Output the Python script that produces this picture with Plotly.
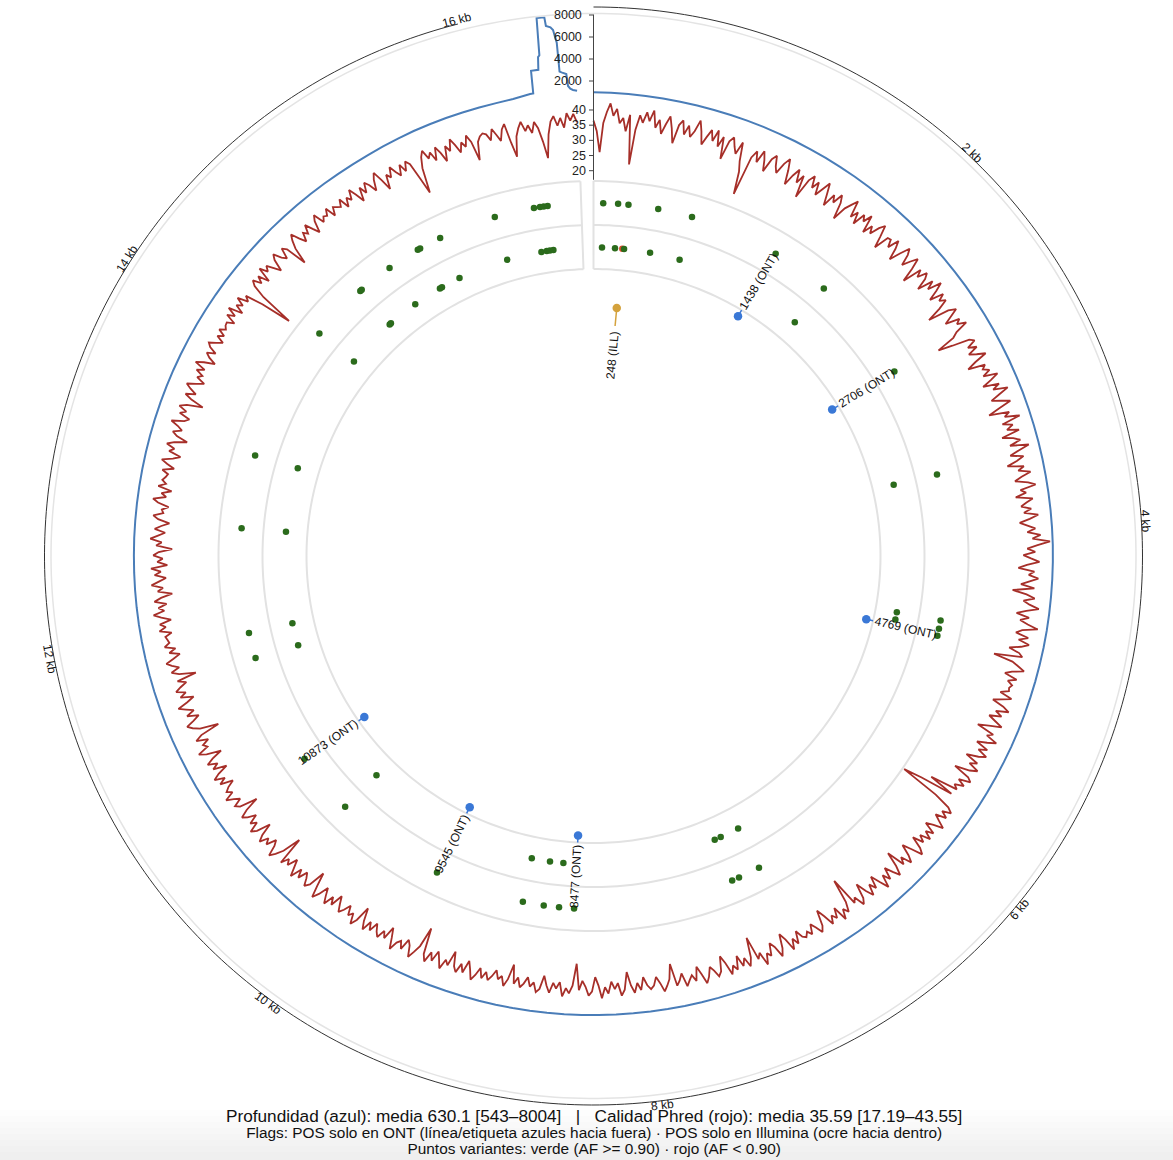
import numpy as np
import plotly.graph_objects as go

# ---------------- data ----------------
GENOME_LEN = 16569
ARC_DEG = 358.0  # angular span used by the genome (small gap at the top)

DEPTH_STEP = 100
depth_grid_val = [
    970, 955, 935, 912, 890, 866, 845, 826, 808, 790,
    772, 756, 741, 727, 712, 700, 688, 676, 664, 653,
    642, 633, 625, 618, 611, 606, 601, 597, 594, 590,
    587, 584, 586, 581, 578, 580, 576, 573, 575, 578,
    582, 585, 581, 577, 574, 576, 579, 575, 571, 568,
    566, 569, 572, 568, 564, 561, 565, 568, 571, 574,
    577, 580, 583, 579, 576, 581, 585, 582, 578, 575,
    572, 576, 579, 574, 569, 566, 562, 559, 556, 551,
    547, 543, 546, 550, 553, 556, 559, 563, 566, 570,
    568, 565, 569, 573, 576, 572, 575, 579, 582, 578,
    575, 579, 583, 587, 584, 588, 592, 589, 593, 597,
    594, 598, 602, 599, 603, 607, 604, 608, 611, 607,
    611, 615, 612, 608, 604, 601, 605, 602, 598, 595,
    592, 589, 593, 590, 586, 583, 587, 584, 581, 585,
    582, 579, 583, 580, 577, 574, 578, 581, 585, 588,
    590, 600, 615, 640, 680, 725, 770, 800, 830, 860,
    890, 930, 1000, 1210,
]
# control region (D-loop) detail
dloop_pos = [16318, 16322, 16362, 16368, 16376, 16382, 16420, 16424, 16446, 16458,
             16468, 16472, 16476, 16490, 16512, 16518, 16530, 16545, 16568]
dloop_val = [1220, 3290, 3300, 4450, 4600, 8004, 8000, 7200, 7040, 6770,
             5900, 5600, 2960, 2850, 2700, 1610, 1350, 1230, 1145]

QUAL_STEP = 20
qual_val = [
    # 0 - 980
    36.5, 33.1, 26.1, 35.8, 39.4, 42.3, 38.2, 40.6, 35.9, 37.7,
    33.4, 38.9, 22.6, 34.2, 39.1, 36.7, 40.3, 37.5, 41.2, 35.6,
    38.4, 33.9, 37.2, 40.1, 36.3, 31.5, 37.8, 39.6, 35.1, 38.3,
    34.7, 36.9, 40.8, 37.4, 33.2, 36.1, 38.7, 35.3, 39.2, 34.0,
    37.6, 30.4, 36.8, 38.5, 35.7, 33.6, 37.9, 31.8, 28.4, 21.0,
    # 1000 - 1980
    34.3, 36.9, 33.5, 37.8, 35.2, 31.6, 36.4, 38.1, 34.8, 32.9,
    36.7, 39.0, 35.4, 30.8, 34.6, 37.3, 33.1, 36.2, 28.9, 35.7,
    37.9, 34.1, 36.8, 32.7, 35.5, 38.4, 34.9, 31.3, 36.0, 33.8,
    37.4, 35.0, 29.6, 34.4, 36.6, 38.8, 33.3, 35.9, 32.1, 36.5,
    34.7, 37.7, 31.9, 35.3, 33.0, 36.3, 38.2, 34.5, 30.7, 35.8,
    # 2000 - 2980
    36.1, 33.7, 37.5, 35.0, 31.2, 34.9, 38.3, 36.4, 32.8, 35.6,
    37.9, 34.3, 29.7, 36.2, 33.9, 37.1, 35.4, 31.5, 36.8, 34.0,
    38.6, 35.8, 32.4, 37.0, 34.6, 36.5, 33.1, 28.2, 35.2, 37.6,
    34.8, 32.0, 36.7, 35.1, 38.0, 33.6, 31.7, 25.4, 30.1, 35.9,
    37.3, 34.2, 36.9, 33.4, 35.7, 38.5, 34.1, 31.0, 36.6, 35.3,
    # 3000 - 3980
    37.2, 34.5, 39.1, 36.3, 33.0, 38.2, 35.7, 40.4, 37.0, 33.8,
    36.9, 39.6, 35.2, 31.4, 38.0, 36.1, 40.9, 34.6, 37.8, 35.5,
    39.3, 33.2, 36.7, 38.8, 35.0, 41.1, 37.4, 34.3, 38.5, 36.0,
    32.6, 37.9, 35.8, 39.7, 36.5, 34.1, 38.3, 40.6, 35.4, 37.1,
    33.5, 39.0, 36.8, 34.9, 38.1, 35.6, 40.2, 37.3, 33.9, 36.4,
    # 4000 - 4980
    38.9, 36.2, 40.5, 37.8, 43.55, 39.4, 36.0, 38.6, 34.7, 37.2,
    40.0, 35.9, 33.1, 38.4, 36.6, 39.8, 37.0, 34.2, 38.7, 31.6,
    36.3, 39.1, 35.5, 37.6, 40.8, 36.8, 33.7, 38.0, 35.2, 37.9,
    41.4, 36.4, 34.5, 38.8, 35.8, 39.5, 37.1, 33.3, 36.9, 38.2,
    28.9, 35.4, 37.7, 39.9, 36.1, 34.0, 38.3, 35.6, 37.4, 36.7,
    # 5000 - 5980
    37.0, 34.4, 38.6, 35.8, 32.9, 36.9, 39.2, 35.1, 37.5, 33.6,
    36.2, 38.9, 34.8, 31.3, 37.3, 35.5, 39.4, 36.6, 33.4, 37.7,
    35.0, 38.4, 36.1, 32.2, 36.8, 34.5, 38.1, 35.7, 30.8, 36.4,
    37.9, 34.1, 36.7, 33.8, 35.3, 26.0, 34.6, 23.5, 17.19, 30.5,
    36.3, 38.2, 35.4, 37.8, 34.3, 36.5, 39.0, 35.9, 33.5, 37.6,
    # 6000 - 6980
    35.2, 38.0, 34.6, 36.9, 33.3, 37.4, 39.3, 35.6, 32.5, 36.2,
    38.5, 34.9, 37.1, 30.9, 35.8, 38.8, 36.4, 33.7, 37.6, 35.0,
    39.1, 36.0, 32.8, 36.7, 34.4, 37.9, 35.3, 31.7, 36.6, 38.3,
    34.7, 36.1, 26.3, 34.2, 37.3, 35.5, 38.7, 33.6, 36.8, 35.1,
    37.7, 34.0, 31.2, 36.3, 38.1, 35.7, 33.9, 37.0, 35.4, 36.9,
    # 7000 - 7980
    36.1, 33.5, 37.5, 35.2, 38.6, 34.4, 31.9, 36.5, 38.9, 35.0,
    33.2, 37.2, 35.9, 39.4, 34.8, 36.6, 28.6, 35.1, 37.8, 34.5,
    36.9, 33.0, 37.4, 35.6, 38.3, 34.1, 31.4, 36.2, 37.6, 35.3,
    33.8, 36.8, 38.7, 35.4, 32.6, 37.1, 34.9, 36.4, 38.1, 33.6,
    35.8, 37.3, 29.8, 34.7, 36.7, 38.4, 35.5, 33.3, 36.0, 37.0,
    # 8000 - 8980
    35.6, 32.8, 36.9, 34.5, 37.6, 35.1, 30.6, 36.3, 38.2, 34.0,
    35.9, 33.4, 37.3, 35.2, 38.8, 34.6, 31.8, 36.6, 37.9, 35.0,
    33.1, 36.2, 27.5, 34.8, 37.4, 35.7, 38.5, 33.9, 36.1, 34.3,
    37.7, 35.4, 32.3, 36.8, 38.0, 34.9, 36.5, 33.5, 35.8, 37.2,
    34.1, 36.4, 30.2, 35.3, 37.8, 34.7, 36.0, 33.2, 35.5, 37.1,
    # 9000 - 9980
    34.6, 37.0, 33.8, 36.5, 38.4, 35.2, 32.6, 36.9, 34.3, 37.5,
    35.8, 31.1, 36.2, 34.7, 38.1, 35.4, 33.0, 36.7, 34.1, 37.8,
    35.6, 26.9, 33.7, 36.3, 38.6, 35.0, 33.4, 37.2, 34.8, 36.0,
    38.9, 35.3, 32.2, 36.6, 34.5, 37.4, 35.9, 33.6, 36.8, 34.2,
    37.7, 35.1, 30.9, 36.1, 38.3, 34.9, 36.4, 33.3, 35.7, 37.3,
    # 10000 - 10980
    35.0, 32.5, 36.8, 34.4, 37.9, 35.6, 33.1, 36.5, 38.7, 34.8,
    30.4, 36.0, 37.6, 35.3, 33.7, 36.9, 34.2, 38.2, 35.5, 32.9,
    36.3, 34.6, 37.3, 27.8, 34.0, 36.6, 38.5, 35.1, 33.4, 36.7,
    34.9, 37.8, 35.7, 31.6, 36.2, 38.0, 34.5, 36.4, 33.2, 35.9,
    37.4, 34.7, 29.9, 35.8, 37.1, 34.3, 36.1, 38.4, 35.2, 36.8,
    # 11000 - 11980
    35.4, 33.0, 37.2, 34.8, 38.1, 35.9, 32.3, 36.7, 34.5, 37.6,
    35.2, 31.5, 36.3, 38.6, 34.9, 36.0, 33.6, 37.4, 35.1, 28.5,
    34.6, 36.8, 38.3, 35.6, 33.3, 37.0, 34.2, 36.5, 38.8, 35.3,
    32.7, 36.9, 34.7, 37.7, 35.8, 33.5, 36.2, 29.6, 35.0, 37.3,
    34.4, 36.6, 38.2, 35.5, 33.1, 36.4, 34.1, 37.5, 35.7, 36.1,
    # 12000 - 12980
    36.6, 34.3, 38.2, 35.9, 37.7, 33.8, 36.9, 39.3, 35.6, 37.4,
    34.6, 38.5, 36.2, 32.4, 37.1, 35.3, 39.0, 36.5, 34.1, 37.8,
    35.7, 38.9, 33.5, 36.8, 35.0, 38.1, 36.3, 31.9, 37.2, 35.4,
    39.2, 36.7, 34.4, 37.9, 35.8, 33.2, 37.0, 38.7, 35.5, 36.1,
    34.0, 37.6, 39.4, 35.2, 36.9, 33.7, 38.3, 35.9, 37.3, 36.4,
    # 13000 - 13980
    35.8, 37.9, 34.2, 36.7, 38.8, 35.3, 33.0, 37.1, 35.6, 38.4,
    36.2, 32.1, 35.9, 37.6, 34.8, 36.5, 39.1, 35.0, 33.6, 37.3,
    35.4, 38.2, 36.0, 30.8, 35.2, 37.7, 34.5, 36.8, 38.6, 35.7,
    33.3, 36.3, 34.9, 37.5, 35.1, 38.9, 36.4, 32.9, 35.5, 37.0,
    34.3, 36.9, 38.0, 35.8, 33.9, 36.6, 34.7, 37.2, 35.3, 36.1,
    # 14000 - 14980
    36.3, 34.0, 37.6, 35.2, 38.4, 33.7, 36.8, 35.0, 37.9, 34.4,
    36.1, 30.1, 19.8, 31.2, 35.8, 37.4, 34.6, 36.9, 33.2, 38.2,
    35.5, 37.1, 34.8, 32.5, 36.4, 38.0, 35.3, 33.8, 37.3, 35.9,
    28.7, 34.1, 36.7, 38.5, 35.6, 33.4, 36.2, 34.9, 37.7, 35.1,
    32.8, 36.6, 38.3, 34.5, 36.0, 35.4, 37.5, 33.9, 36.5, 35.7,
    # 15000 - 15980
    35.0, 37.3, 33.6, 36.4, 34.9, 38.1, 35.5, 32.4, 36.8, 34.2,
    37.4, 35.8, 33.1, 36.6, 38.6, 35.2, 31.3, 36.0, 34.5, 37.7,
    35.4, 33.5, 36.9, 34.1, 37.1, 35.6, 29.9, 24.4, 32.7, 36.2,
    38.0, 34.8, 36.5, 33.3, 37.5, 35.1, 31.8, 36.7, 34.6, 38.3,
    35.9, 33.0, 36.1, 34.3, 37.8, 35.3, 28.8, 34.7, 36.3, 37.0,
    # 16000 - 16560
    36.4, 34.1, 37.7, 35.5, 33.2, 36.8, 38.4, 31.9, 27.0, 33.6,
    36.2, 38.1, 34.8, 36.6, 33.9, 37.4, 35.2, 30.6, 25.0, 32.8,
    36.9, 38.6, 35.3, 37.8, 34.5, 39.2, 36.7, 38.9, 36.1,
]

ont_var_pos = [73, 185, 263, 489, 750, 1438, 1885, 2706, 3548, 4652, 4715, 4769, 7037, 7204,
               7260, 8477, 8590, 8706, 8865, 9549, 10400, 10873, 11719, 11914, 12705, 13262,
               14304, 14748, 14762, 15028, 15280, 15300, 15470, 15910, 16212, 16258, 16286,
               16316]
ont_var_af = [1.0, 0.98, 1.0, 0.99, 1.0, 0.97, 1.0, 0.99, 1.0, 0.98, 1.0, 0.96, 1.0, 0.99,
              1.0, 0.95, 1.0, 0.99, 1.0, 0.97, 1.0, 0.96, 1.0, 0.99, 1.0, 0.98,
              1.0, 0.99, 1.0, 0.98, 1.0, 0.99, 1.0, 0.98, 1.0, 0.99, 0.97, 1.0]
ill_var_pos = [73, 185, 248, 263, 489, 750, 1885, 3548, 4652, 4715, 7037, 7204, 7260, 8590,
               8706, 8865, 10400, 11719, 11914, 12705, 13262, 14304, 14748, 14762, 15028,
               15280, 15300, 15470, 15910, 16212, 16258, 16286, 16316]
ill_var_af = [1.0, 0.99, 0.62, 1.0, 0.99, 1.0, 0.99, 1.0, 0.99, 1.0, 1.0, 0.99, 1.0, 0.99,
              1.0, 0.99, 1.0, 1.0, 0.99, 1.0, 0.99, 1.0, 0.99, 1.0, 1.0,
              0.99, 1.0, 0.99, 1.0, 0.99, 1.0, 0.98, 1.0]

ont_only_flags = [1438, 2706, 4769, 8477, 9545, 10873]
ill_only_flags = [248]
tick_kb = [2, 4, 6, 8, 10, 12, 14, 16]
depth_ticks = [2000, 4000, 6000, 8000]
qual_ticks = [20, 25, 30, 35, 40]

depth_stats = dict(mean=630.1, lo=543, hi=8004)
qual_stats = dict(mean=35.59, lo=17.19, hi=43.55)

depth_pos = list(range(0, DEPTH_STEP * len(depth_grid_val), DEPTH_STEP)) + dloop_pos
depth_val = depth_grid_val + dloop_val
qual_pos = list(range(0, QUAL_STEP * len(qual_val), QUAL_STEP))

# ---------------- layout constants ----------------
W, H = 1173, 1160
CX, CY = 593.5, 556.0          # centre, px from top-left
R_GEO = 556.0
R_BLACK, R_GREY_OUT = 549.0, 542.5
R_TRK = [287.0, 331.0, 375.0]
R_ONT, R_ILL = 353.0, 308.5
R_FLAG_BLUE, R_FLAG_BLUE_END = 280.0, 287.0
R_FLAG_OCHRE, R_FLAG_OCHRE_END = 249.0, 231.0
# depth scale: r = 453 + 0.011 * depth
D_R0, D_K = 453.0, 0.011
D_RANGE = [0, 8050]
# quality scale: r = 385.3 + 3.035 * (q - 20)
Q_R20, Q_K = 385.3, 3.035
Q_RANGE = [17.0, 44.6]

GREEN, RED = "#2b6b1c", "#dc4b2c"
BLUE_FLAG, OCHRE = "#3a78d6", "#d4a23c"
DEPTH_COL, QUAL_COL = "#4a7db8", "#a62f29"
FONT = "Liberation Sans, Arial, Helvetica, sans-serif"


def deg(p):
    return np.asarray(p, dtype=float) * ARC_DEG / GENOME_LEN


def dom(R):
    return dict(x=[(CX - R) / W, (CX + R) / W], y=[(H - CY - R) / H, (H - CY + R) / H])


def arc(r, t0, t1, n=400):
    t = np.linspace(t0, t1, n)
    return t, np.full(n, r)


def paper_xy(r, th):
    a = np.radians(th)
    return (CX + r * np.sin(a)) / W, (H - CY + r * np.cos(a)) / H


CW = {' ': 0.278, '(': 0.333, ')': 0.333, 'O': 0.778, 'N': 0.722, 'T': 0.611,
      'I': 0.278, 'L': 0.556, 'k': 0.5, 'b': 0.556}


def text_w(s, size):
    return sum(CW.get(c, 0.556) for c in s) * size


ang_hidden = dict(rotation=90, direction="clockwise", showline=False, showgrid=False,
                  showticklabels=False, ticks="")

fig = go.Figure()

# ---- geometry polar: rings, tracks, flags ----
t, r = arc(R_GREY_OUT, 0, 360)
fig.add_trace(go.Scatterpolar(theta=t, r=r, mode="lines", line=dict(color="#e4e4e4", width=1.5),
                              subplot="polar", hoverinfo="skip"))
t, r = arc(R_BLACK, 0, float(deg(tick_kb[-1] * 1000)))
fig.add_trace(go.Scatterpolar(theta=t, r=r, mode="lines", line=dict(color="#333333", width=1),
                              subplot="polar", hoverinfo="skip"))
for rr in R_TRK:
    t, r = arc(rr, 0, ARC_DEG)
    fig.add_trace(go.Scatterpolar(theta=t, r=r, mode="lines", line=dict(color="#e2e2e2", width=2),
                                  subplot="polar", hoverinfo="skip"))
fig.add_trace(go.Scatterpolar(theta=[0, 0, None, ARC_DEG, ARC_DEG],
                              r=[R_TRK[0], R_TRK[-1], None, R_TRK[0], R_TRK[-1]],
                              mode="lines", line=dict(color="#e2e2e2", width=2),
                              subplot="polar", hoverinfo="skip"))

# variant points
for pos, af, rad in [(ont_var_pos, ont_var_af, R_ONT), (ill_var_pos, ill_var_af, R_ILL)]:
    cols = [GREEN if a >= 0.90 else RED for a in af]
    fig.add_trace(go.Scatterpolar(theta=deg(pos), r=[rad] * len(pos), mode="markers",
                                  marker=dict(color=cols, size=6.5), subplot="polar",
                                  hovertext=[f"{p} AF={a}" for p, a in zip(pos, af)]))

# flags: ONT only (blue, outward) and Illumina only (ochre, inward)
th_b, r_b = [], []
for p in ont_only_flags:
    th_b += [float(deg(p)), float(deg(p)), None]
    r_b += [R_FLAG_BLUE, R_FLAG_BLUE_END, None]
fig.add_trace(go.Scatterpolar(theta=th_b, r=r_b, mode="lines", line=dict(color=BLUE_FLAG, width=1.5),
                              subplot="polar", hoverinfo="skip"))
fig.add_trace(go.Scatterpolar(theta=deg(ont_only_flags), r=[R_FLAG_BLUE] * len(ont_only_flags),
                              mode="markers", marker=dict(color=BLUE_FLAG, size=8.5), subplot="polar"))
th_o, r_o = [], []
for p in ill_only_flags:
    th_o += [float(deg(p)), float(deg(p)), None]
    r_o += [R_FLAG_OCHRE, R_FLAG_OCHRE_END, None]
fig.add_trace(go.Scatterpolar(theta=th_o, r=r_o, mode="lines", line=dict(color=OCHRE, width=1.5),
                              subplot="polar", hoverinfo="skip"))
fig.add_trace(go.Scatterpolar(theta=deg(ill_only_flags), r=[R_FLAG_OCHRE] * len(ill_only_flags),
                              mode="markers", marker=dict(color=OCHRE, size=8.5), subplot="polar"))

# ---- depth polar ----
R_D = D_R0 + D_K * D_RANGE[1]
fig.add_trace(go.Scatterpolar(theta=deg(depth_pos), r=depth_val, mode="lines",
                              line=dict(color=DEPTH_COL, width=2), subplot="polar2"))
# ---- quality polar ----
R_Q = Q_R20 + Q_K * (Q_RANGE[1] - 20)
R_Q_IN = Q_R20 + Q_K * (Q_RANGE[0] - 20)
fig.add_trace(go.Scatterpolar(theta=deg(qual_pos), r=qual_val, mode="lines",
                              line=dict(color=QUAL_COL, width=1.8), subplot="polar3"))

rad_common = dict(showline=True, linecolor="#444", linewidth=1, showgrid=False, ticks="outside",
                  ticklen=4, tickcolor="#444", angle=90, side="counterclockwise",
                  showticklabels=False)

fig.update_layout(
    width=W, height=H, margin=dict(l=0, r=0, t=0, b=0, pad=0, autoexpand=False),
    paper_bgcolor="white", plot_bgcolor="white", showlegend=False,
    font=dict(family=FONT, color="#111"),
    polar=dict(domain=dom(R_GEO), hole=0, bgcolor="rgba(0,0,0,0)", angularaxis=ang_hidden,
               radialaxis=dict(range=[0, R_GEO], visible=False)),
    polar2=dict(domain=dom(R_D), hole=D_R0 / R_D, bgcolor="rgba(0,0,0,0)", angularaxis=ang_hidden,
                radialaxis=dict(range=D_RANGE, tickvals=depth_ticks, **rad_common)),
    polar3=dict(domain=dom(R_Q), hole=R_Q_IN / R_Q, bgcolor="rgba(0,0,0,0)", angularaxis=ang_hidden,
                radialaxis=dict(range=Q_RANGE, tickvals=qual_ticks, **rad_common)),
)

ann = []
# radial axis tick labels (placed with the same scales as the axes)
for v in depth_ticks:
    ann.append(dict(x=(CX - 9.5) / W, y=(H - CY + D_R0 + D_K * v) / H, xref="paper", yref="paper",
                    text=str(v), showarrow=False, xanchor="right", yanchor="middle",
                    font=dict(family=FONT, size=12.5, color="#222")))
for v in qual_ticks:
    ann.append(dict(x=(CX - 6) / W, y=(H - CY + Q_R20 + Q_K * (v - 20)) / H, xref="paper",
                    yref="paper", text=str(v), showarrow=False, xanchor="right", yanchor="middle",
                    font=dict(family=FONT, size=12.5, color="#222")))
# kb tick labels on the outer arc
for k in tick_kb:
    th = float(deg(k * 1000))
    x, y = paper_xy(553.5, th)
    ta = th - 180 if 90 < th < 270 else (th - 360 if th >= 270 else th)
    ann.append(dict(x=x, y=y, xref="paper", yref="paper", text=f"{k} kb", showarrow=False,
                    textangle=ta, xanchor="center", yanchor="middle",
                    font=dict(family=FONT, size=12, color="#111")))
# flag labels
for p in ont_only_flags:
    th = float(deg(p))
    s = f"{p} (ONT)"
    rc = R_FLAG_BLUE_END + 2 + text_w(s, 12) / 2
    x, y = paper_xy(rc, th)
    ta = th - 90 if th < 180 else th - 270
    ann.append(dict(x=x, y=y, xref="paper", yref="paper", text=s, showarrow=False, textangle=ta,
                    xanchor="center", yanchor="middle", font=dict(family=FONT, size=12, color="#111")))
for p in ill_only_flags:
    th = float(deg(p))
    s = f"{p} (ILL)"
    rc = R_FLAG_OCHRE_END - 5 - text_w(s, 12) / 2
    x, y = paper_xy(rc, th)
    ta = th - 90 if th < 180 else th - 270
    ann.append(dict(x=x, y=y, xref="paper", yref="paper", text=s, showarrow=False, textangle=ta,
                    xanchor="center", yanchor="middle", font=dict(family=FONT, size=12, color="#111")))

line1 = (f"Profundidad (azul): media {depth_stats['mean']} [{depth_stats['lo']}–{depth_stats['hi']}]"
         f"   |   Calidad Phred (rojo): media {qual_stats['mean']} [{qual_stats['lo']}–{qual_stats['hi']}]")
line2 = "Flags: POS solo en ONT (línea/etiqueta azules hacia fuera) · POS solo en Illumina (ocre hacia dentro)"
line3 = "Puntos variantes: verde (AF &gt;= 0.90) · rojo (AF &lt; 0.90)"
caption = (f"<span style='font-size:17.2px'>{line1}</span><br>"
           f"<span style='font-size:15.4px'>{line2}</span><br>"
           f"<span style='font-size:15.4px'>{line3}</span>")
ann.append(dict(x=593.5 / W, y=(H - 1131.5) / H, xref="paper", yref="paper", text=caption,
                showarrow=False, xanchor="center", yanchor="middle", align="center",
                font=dict(family=FONT, size=12.2, color="#111")))
fig.update_layout(annotations=ann)

# faint grey band at the very bottom
shapes = []
for i in range(8):
    top = (H - 1110 - i * 6) / H
    shapes.append(dict(type="rect", xref="paper", yref="paper", x0=0, x1=1, y0=0, y1=top,
                       fillcolor="rgba(0,0,0,0.009)", line=dict(width=0), layer="below"))
fig.update_layout(shapes=shapes)

fig.write_html("out.html", config={"displayModeBar": False},
               post_script="document.body.style.margin='0px';")
